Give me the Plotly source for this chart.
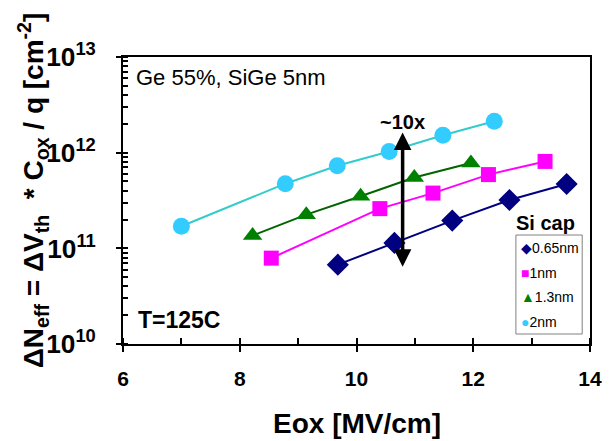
import numpy as np
import plotly.graph_objects as go

# ---- data ----
series_names = ["0.65nm", "1nm", "1.3nm", "2nm"]
eox_065 = [9.68, 10.65, 11.64, 12.62, 13.60]
n_065 = [6.75e10, 1.14e11, 1.95e11, 3.2e11, 4.7e11]
eox_1 = [8.54, 10.40, 11.31, 12.26, 13.23]
n_1 = [7.9e10, 2.6e11, 3.78e11, 5.9e11, 8.1e11]
eox_13 = [8.22, 9.14, 10.07, 10.99, 11.96]
n_13 = [1.36e11, 2.25e11, 3.5e11, 5.5e11, 7.8e11]
eox_2 = [7.0, 8.78, 9.67, 10.56, 11.48, 12.36]
n_2 = [1.70e11, 4.74e11, 7.3e11, 1.03e12, 1.52e12, 2.13e12]

arrow_x = 10.79
arrow_low = 6.2e10
arrow_high = 1.62e12

x_ticks = [6, 8, 10, 12, 14]

FONT = "Liberation Sans, Arial, sans-serif"

styles = [
    dict(sym="diamond", size=17, mcol="#000080", lcol="#000080", glyph="◆"),
    dict(sym="square", size=15, mcol="#FF00FF", lcol="#FF00FF", glyph="■"),
    dict(sym="triangle-up", size=17, mcol="#008000", lcol="#006400", glyph="▲"),
    dict(sym="circle", size=17, mcol="#33CCFF", lcol="#33CCCC", glyph="●"),
]
data = [(eox_065, n_065), (eox_1, n_1), (eox_13, n_13), (eox_2, n_2)]

fig = go.Figure()
for (xs, ys), st in zip(data, styles):
    fig.add_trace(go.Scatter(x=xs, y=ys, mode="lines",
                             line=dict(color=st["lcol"], width=2),
                             showlegend=False, hoverinfo="skip"))
for (xs, ys), st, name in zip(data, styles, series_names):
    fig.add_trace(go.Scatter(x=xs, y=ys, mode="markers", name=name,
                             marker=dict(symbol=st["sym"], size=st["size"], color=st["mcol"]),
                             showlegend=False))

fig.update_layout(
    width=614, height=441, autosize=False,
    margin=dict(l=123, r=12, t=57, b=97),
    paper_bgcolor="white", plot_bgcolor="white",
    font=dict(family=FONT, color="black"),
    showlegend=False,
)
fig.update_xaxes(range=[6, 14], tickvals=x_ticks, showgrid=False, zeroline=False,
                 showline=True, linewidth=2, linecolor="black", mirror=True,
                 ticks="outside", ticklen=6, tickwidth=2, tickcolor="black",
                 minor=dict(dtick=1, ticks="inside", ticklen=6, tickwidth=1.5, tickcolor="black"),
                 tickfont=dict(size=21, family=FONT, weight="bold"),
                 ticklabelstandoff=9)
fig.update_yaxes(type="log", range=[10, 13], dtick=1, exponentformat="power",
                 showgrid=False, zeroline=False,
                 showline=True, linewidth=2, linecolor="black", mirror=True,
                 ticks="outside", ticklen=5, tickwidth=2, tickcolor="black",
                 minor=dict(dtick="D1", ticks="inside", ticklen=5, tickwidth=1.5, tickcolor="black"),
                 tickfont=dict(size=21, family=FONT, weight="bold"),
                 ticklabelstandoff=16)

PX_L, PX_R, PX_T, PX_B = 123, 602, 57, 344
def px_x(p):
    return (p - PX_L) / (PX_R - PX_L)
def px_y(p):
    return (PX_B - p) / (PX_B - PX_T)

fig.add_shape(type="rect", xref="paper", yref="paper",
              x0=px_x(526), x1=px_x(594), y0=px_y(334), y1=px_y(235),
              line=dict(color="#808080", width=1), fillcolor="white", layer="above")

ann = [
    dict(text="Ge 55%, SiGe 5nm", xref="paper", yref="paper", x=px_x(134), y=px_y(77),
         xanchor="left", yanchor="middle", showarrow=False,
         font=dict(size=22, family=FONT)),
    dict(text="<b>T=125C</b>", xref="paper", yref="paper", x=px_x(136), y=px_y(320),
         xanchor="left", yanchor="middle", showarrow=False,
         font=dict(size=23, family=FONT)),
    dict(text="<b>~10x</b>", xref="x", yref="paper", x=arrow_x, y=px_y(122),
         xanchor="center", yanchor="middle", showarrow=False,
         font=dict(size=20, family=FONT)),
    dict(text="<b>Si cap</b>", xref="paper", yref="paper", x=px_x(556), y=px_y(223),
         xanchor="center", yanchor="middle", showarrow=False,
         font=dict(size=20, family=FONT)),
    dict(text="", xref="x", yref="y", x=arrow_x, y=np.log10(arrow_high),
         axref="x", ayref="y", ax=arrow_x, ay=np.log10(arrow_low),
         showarrow=True, arrowhead=2, arrowside="end+start", arrowwidth=3.5,
         arrowsize=1.0, arrowcolor="black"),
    dict(text="<b>ΔN<sub>eff</sub> = ΔV<sub>th</sub>  * C<sub>ox</sub> / q [cm<sup>-2</sup>]</b>",
         xref="paper", yref="paper", x=px_x(31), y=px_y(190), textangle=-90,
         xanchor="center", yanchor="middle", showarrow=False,
         font=dict(size=28, family=FONT)),
    dict(text="<b>Eox [MV/cm]</b>", xref="paper", yref="paper", x=0.5, y=px_y(423),
         xanchor="center", yanchor="middle", showarrow=False,
         font=dict(size=28, family=FONT)),
]
legend_rows = [248, 273, 297, 322]
for st, name, row in zip(styles, series_names, legend_rows):
    ann.append(dict(
        text=f"<span style='color:{st['mcol']}'>{st['glyph']}</span>{name}",
        xref="paper", yref="paper", x=px_x(529), y=px_y(row),
        xanchor="left", yanchor="middle", showarrow=False,
        font=dict(size=14, family=FONT)))
fig.update_layout(annotations=ann)

fig.write_html("out.html")
